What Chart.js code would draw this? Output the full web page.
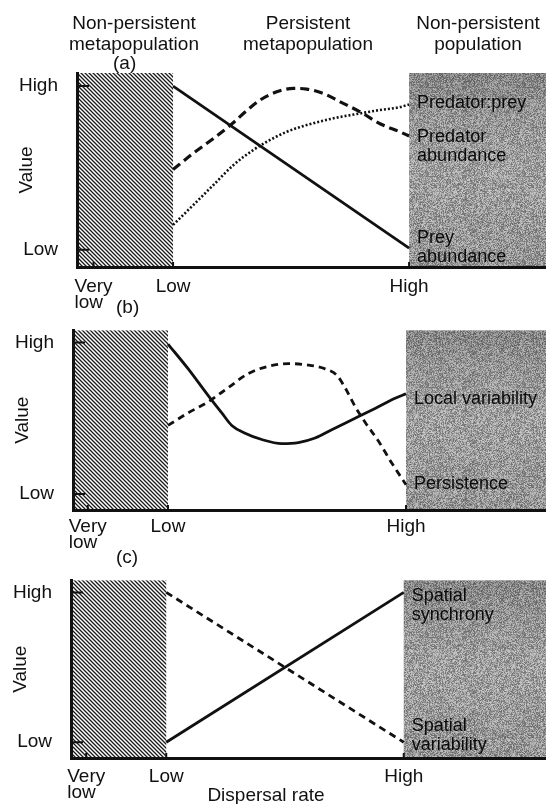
<!DOCTYPE html>
<html lang="en">
<head>
<meta charset="UTF-8">
<script src="https://cdn.jsdelivr.net/npm/chart.js@4"></script>
<title>Dispersal rate</title>
<style>
    body { margin: 0; background: #fff; }
    .wrap { position: relative; width: 546px; height: 804px; overflow: hidden; font-family: "Liberation Sans", Arial, sans-serif; color: #111; }
    .box { position: absolute; left: 0; }
    .head { position: absolute; width: 180px; text-align: center; font-size: 19px; line-height: 21px; }
    .tag { position: absolute; font-size: 19px; line-height: 20px; }
</style>
</head>
<body>
<div class="wrap">
    <div class="box" style="top:0"><canvas id="graficoA" width="546" height="310"></canvas></div>
    <div class="box" style="top:300px"><canvas id="graficoB" width="546" height="260"></canvas></div>
    <div class="box" style="top:550px"><canvas id="graficoC" width="546" height="254"></canvas></div>

    <div class="head" style="left:44px; top:12px">Non-persistent<br>metapopulation</div>
    <div class="head" style="left:218px; top:12px">Persistent<br>metapopulation</div>
    <div class="head" style="left:388px; top:12px">Non-persistent<br>population</div>
    <div class="tag" style="left:113px; top:53px">(a)</div>
    <div class="tag" style="left:116px; top:297px">(b)</div>
    <div class="tag" style="left:116px; top:547px">(c)</div>
    <div class="head" style="left:176px; top:784px">Dispersal rate</div>
</div>

<script>
    // eixos (mesmos nos tres paineis)
    const xTickValues = [-3.37, 0, 10];
    const xTickLabels = [['Very', 'low\u2002'], 'Low', 'High'];
    const yTickValues = [0, 1];
    const yTickLabels = ['Low', 'High'];

    // (a)
    const preyX = [0, 10];
    const preyY = [1.0, 0.01];
    const predatorX = [0, 0.86, 1.71, 2.42, 3.12, 3.69, 4.39, 5.10, 5.66, 6.37, 7.08, 7.92, 8.77, 9.62, 10];
    const predatorY = [0.49, 0.59, 0.68, 0.76, 0.85, 0.915, 0.965, 0.986, 0.982, 0.955, 0.904, 0.843, 0.77, 0.72, 0.695];
    const ratioX = [0, 0.86, 1.71, 2.56, 3.40, 3.97, 4.82, 5.66, 6.79, 7.92, 8.77, 9.62, 10];
    const ratioY = [0.152, 0.274, 0.396, 0.518, 0.61, 0.66, 0.721, 0.762, 0.803, 0.833, 0.854, 0.872, 0.888];

    // (b)
    const localX = [0, 0.85, 1.69, 2.26, 2.68, 3.24, 3.94, 4.78, 5.48, 6.18, 6.88, 7.86, 8.70, 9.54, 10];
    const localY = [0.99, 0.826, 0.65, 0.536, 0.453, 0.402, 0.36, 0.333, 0.34, 0.37, 0.425, 0.5, 0.565, 0.632, 0.662];
    const persistX = [0, 0.85, 1.69, 2.53, 3.37, 4.21, 5.06, 5.90, 6.60, 7.09, 7.44, 7.86, 8.28, 8.84, 9.40, 10];
    const persistY = [0.453, 0.536, 0.609, 0.702, 0.795, 0.843, 0.861, 0.851, 0.826, 0.785, 0.702, 0.578, 0.474, 0.35, 0.205, 0.062];

    // (c)
    const syncX = [0, 10];
    const syncY = [0, 1];
    const spatialVarX = [0, 10];
    const spatialVarY = [1, 0];

    // rotulos das curvas (valor onde fica a primeira linha)
    const labelsA = [['Predator:prey'], ['Predator', 'abundance'], ['Prey', 'abundance']];
    const labelsAY = [0.896, 0.689, 0.073];
    const labelsB = [['Local variability'], ['Persistence']];
    const labelsBY = [0.627, 0.068];
    const labelsC = [['Spatial', 'synchrony'], ['Spatial', 'variability']];
    const labelsCY = [0.975, 0.111];

    Chart.defaults.font.family = '"Liberation Sans", Arial, sans-serif';
    Chart.defaults.font.size = 19;
    Chart.defaults.color = '#111';

    // textura hachurada (lado esquerdo)
    const hatchTile = document.createElement('canvas');
    hatchTile.width = 4; hatchTile.height = 4;
    (function () {
        const g = hatchTile.getContext('2d');
        g.fillStyle = '#fff'; g.fillRect(0, 0, 4, 4);
        g.strokeStyle = '#1a1a1a'; g.lineWidth = 1.3;
        g.beginPath();
        g.moveTo(-1, -1); g.lineTo(5, 5);
        g.moveTo(-1, 3); g.lineTo(1, 5);
        g.moveTo(3, -1); g.lineTo(5, 1);
        g.stroke();
    })();

    // textura cinza granulada (lado direito)
    const grayTile = document.createElement('canvas');
    grayTile.width = 97; grayTile.height = 89;
    (function () {
        const g = grayTile.getContext('2d');
        const img = g.createImageData(97, 89);
        let s = 2463534242;
        for (let i = 0; i < img.data.length; i += 4) {
            s ^= s << 13; s ^= s >>> 17; s ^= s << 5;
            const v = 104 + ((s >>> 0) % 100);
            img.data[i] = img.data[i + 1] = img.data[i + 2] = v;
            img.data[i + 3] = 255;
        }
        g.putImageData(img, 0, 0);
    })();

    const regioes = {
        id: 'regioes',
        beforeDraw(chart) {
            const { ctx, chartArea: a, scales: { x } } = chart;
            const xLow = x.getPixelForValue(0);
            const xHigh = x.getPixelForValue(10);
            const h = a.bottom - a.top;
            ctx.save();
            ctx.fillStyle = ctx.createPattern(hatchTile, 'repeat');
            ctx.fillRect(a.left, a.top, xLow - a.left, h);
            ctx.fillStyle = ctx.createPattern(grayTile, 'repeat');
            ctx.fillRect(xHigh, a.top, a.right - xHigh, h);
            const grad = ctx.createLinearGradient(0, a.top, 0, a.bottom);
            grad.addColorStop(0, 'rgba(0,0,0,0.14)');
            grad.addColorStop(0.55, 'rgba(255,255,255,0.05)');
            grad.addColorStop(1, 'rgba(0,0,0,0.04)');
            ctx.fillStyle = grad;
            ctx.fillRect(xHigh, a.top, a.right - xHigh, h);
            ctx.restore();
        }
    };

    const marcas = {
        id: 'marcas',
        afterDraw(chart, args, opts) {
            const { ctx, chartArea: a, scales: { x, y } } = chart;
            ctx.save();
            ctx.strokeStyle = '#111';
            ctx.lineWidth = 2;
            ctx.beginPath();
            yTickValues.forEach(v => {
                const py = y.getPixelForValue(v);
                ctx.moveTo(a.left, py); ctx.lineTo(a.left + 12, py);
            });
            xTickValues.forEach(v => {
                const px = x.getPixelForValue(v);
                ctx.moveTo(px, a.bottom); ctx.lineTo(px, a.bottom - 5);
            });
            ctx.stroke();

            // nomes das curvas sobre a area cinza
            ctx.fillStyle = '#0a0a0a';
            ctx.font = '18px "Liberation Sans", Arial, sans-serif';
            ctx.textAlign = 'left';
            ctx.textBaseline = 'middle';
            const lx = x.getPixelForValue(10) + 8;
            opts.texts.forEach((linhas, k) => {
                const py = y.getPixelForValue(opts.at[k]);
                linhas.forEach((t, i) => ctx.fillText(t, lx, py + i * 19));
            });
            ctx.restore();
        }
    };

    function serie(xs, ys, width, dash, curve) {
        return {
            data: xs.map((v, i) => ({ x: v, y: ys[i] })),
            borderColor: '#111',
            borderWidth: width,
            borderDash: dash,
            borderCapStyle: 'butt',
            pointRadius: 0,
            fill: false,
            tension: 0,
            cubicInterpolationMode: curve ? 'monotone' : 'default'
        };
    }

    function montarPainel(id, cfg) {
        return new Chart(document.getElementById(id), {
            type: 'line',
            data: { datasets: cfg.datasets },
            options: {
                responsive: false,
                animation: false,
                layout: { padding: { top: cfg.top, right: 0, bottom: 0, left: 0 } },
                plugins: {
                    legend: { display: false },
                    tooltip: { enabled: false },
                    marcas: { texts: cfg.texts, at: cfg.at }
                },
                scales: {
                    x: {
                        type: 'linear',
                        min: cfg.xMin,
                        max: cfg.xMax,
                        afterFit: s => { s.height = cfg.xHeight; },
                        afterBuildTicks: s => { s.ticks = xTickValues.map(v => ({ value: v })); },
                        ticks: {
                            callback: (v, i) => xTickLabels[i],
                            padding: cfg.tickPad,
                            maxRotation: 0,
                            autoSkip: false,
                            color: '#111',
                            font: { size: 19, lineHeight: 0.85 }
                        },
                        grid: { display: false, drawTicks: false },
                        border: { display: true, color: '#111', width: 3 }
                    },
                    y: {
                        type: 'linear',
                        min: -0.105,
                        max: 1.08,
                        afterFit: s => { s.width = cfg.axisX; },
                        afterBuildTicks: s => { s.ticks = yTickValues.map(v => ({ value: v })); },
                        ticks: {
                            callback: (v, i) => yTickLabels[i],
                            padding: 19,
                            color: '#111',
                            font: { size: 19 }
                        },
                        grid: { display: false, drawTicks: false },
                        border: { display: true, color: '#111', width: 3 },
                        title: {
                            display: true,
                            text: 'Value',
                            color: '#111',
                            font: { size: 19 },
                            padding: cfg.axisX - 61.4
                        }
                    }
                }
            },
            plugins: [regioes, marcas]
        });
    }

    montarPainel('graficoA', {
        top: 73, axisX: 77, xMin: -4.07, xMax: 15.8, xHeight: 43, tickPad: 12,
        datasets: [
            serie(preyX, preyY, 2.8, [], false),
            serie(predatorX, predatorY, 3.2, [9, 5], true),
            serie(ratioX, ratioY, 2.6, [2, 2], true)
        ],
        texts: labelsA, at: labelsAY
    });

    montarPainel('graficoB', {
        top: 18, axisX: 73, xMin: -3.99, xMax: 15.88, xHeight: 50, tickPad: 9,
        datasets: [
            serie(localX, localY, 2.8, [], true),
            serie(persistX, persistY, 2.8, [7, 5], true)
        ],
        texts: labelsB, at: labelsBY
    });

    montarPainel('graficoC', {
        top: 17, axisX: 71, xMin: -4.01, xMax: 15.99, xHeight: 46, tickPad: 11,
        datasets: [
            serie(syncX, syncY, 2.8, [], false),
            serie(spatialVarX, spatialVarY, 2.8, [7, 5], false)
        ],
        texts: labelsC, at: labelsCY
    });
</script>
</body>
</html>
